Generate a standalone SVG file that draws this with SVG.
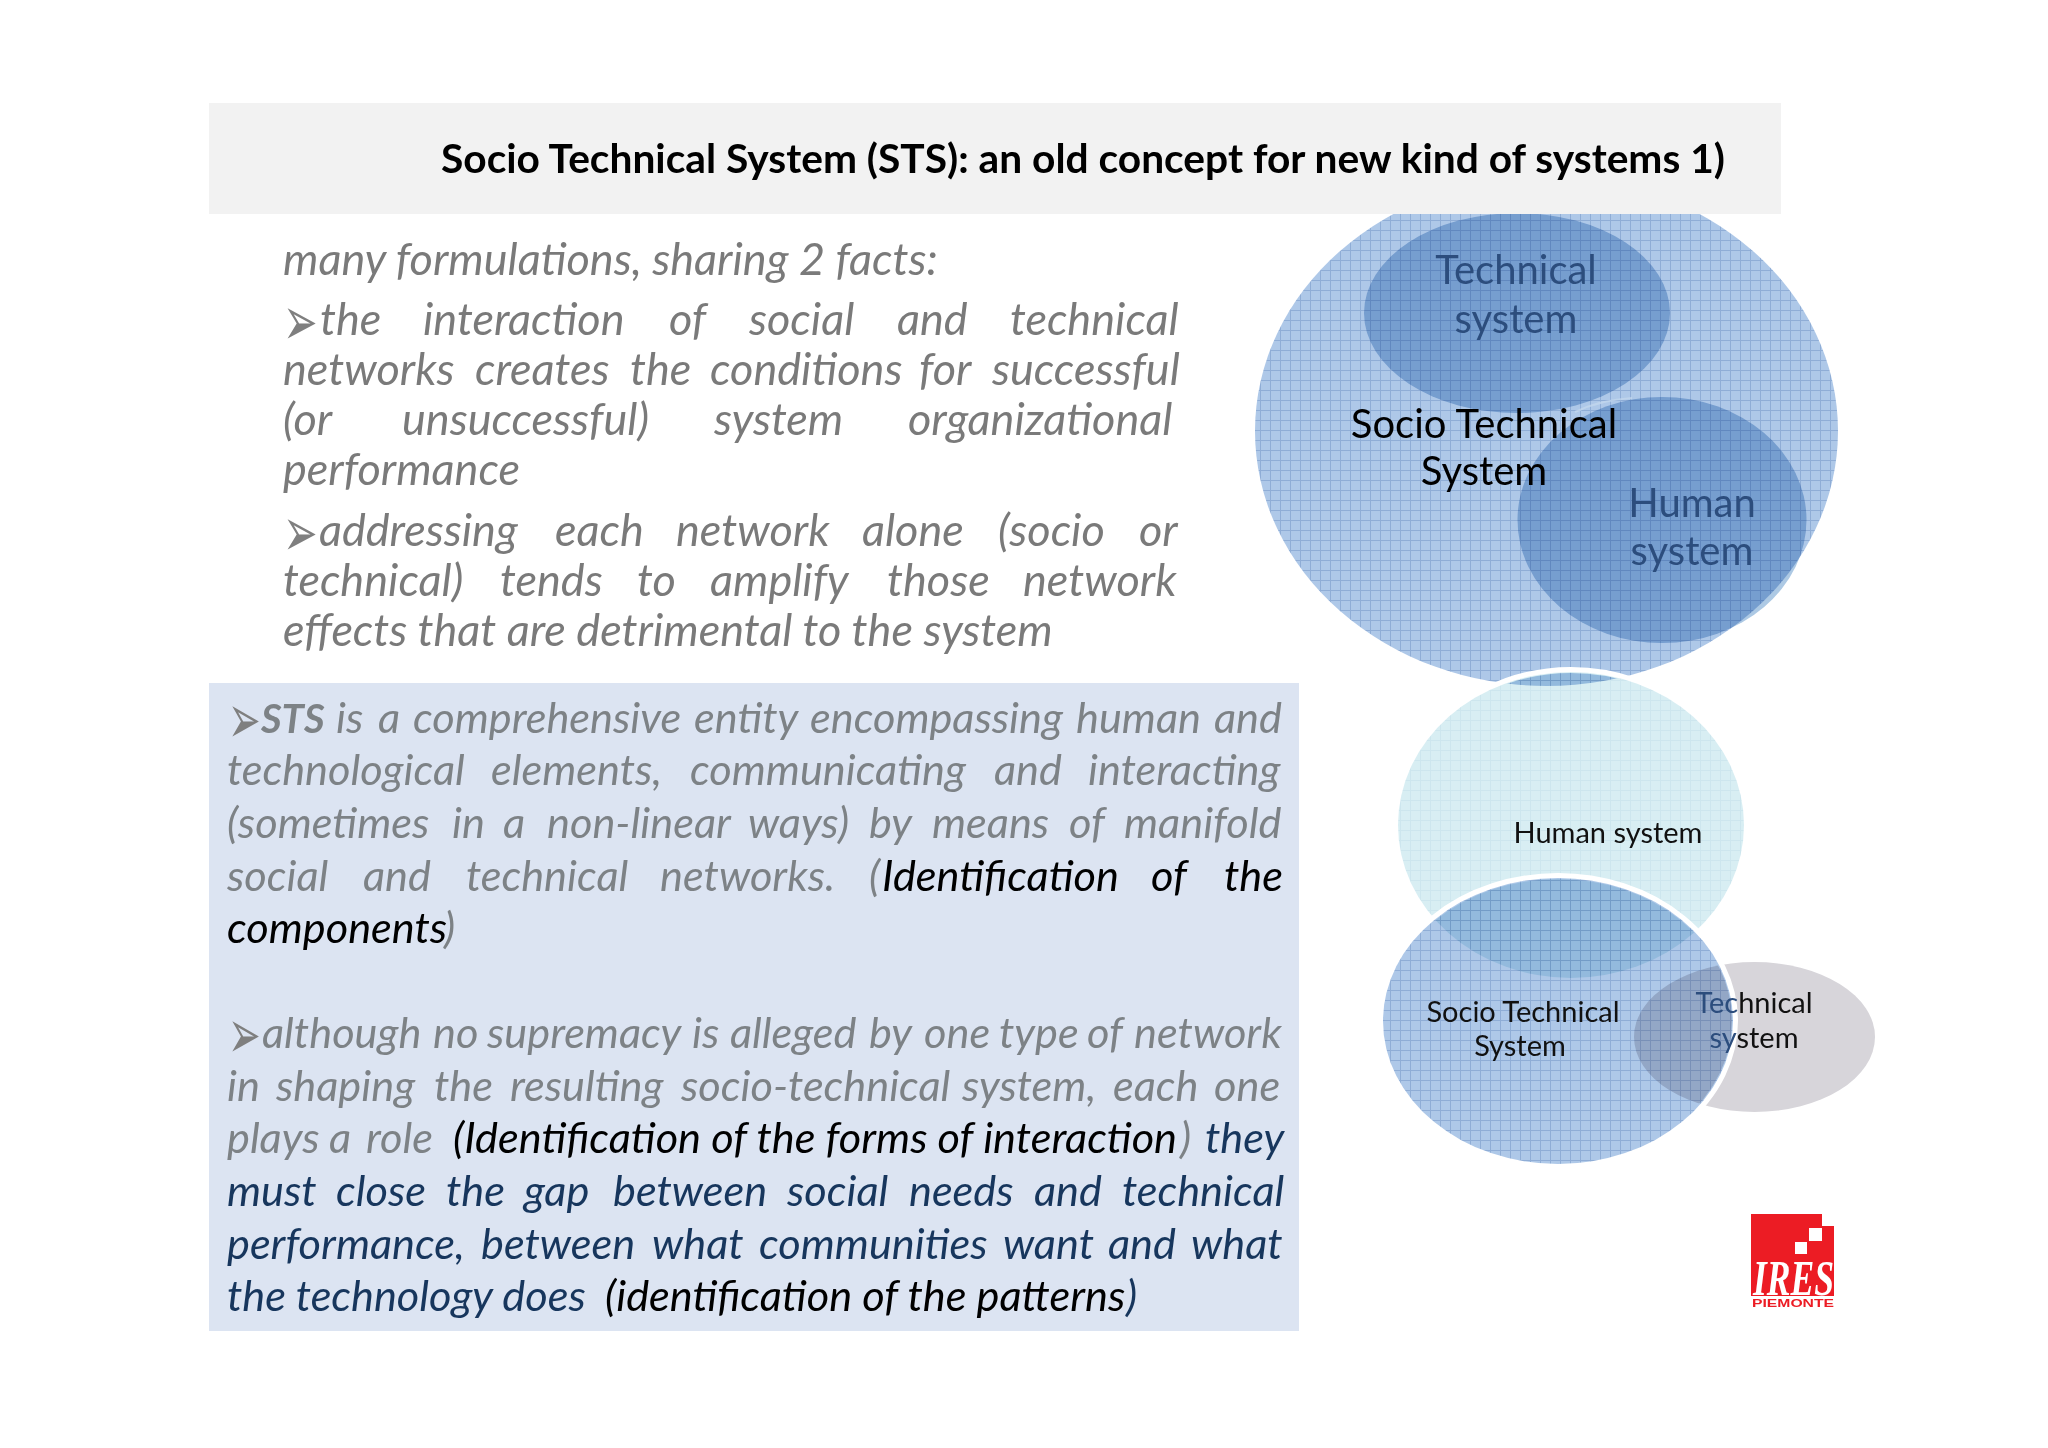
<svg xmlns="http://www.w3.org/2000/svg" width="2048" height="1448" viewBox="0 0 2048 1448">
<style>
text{font-family:Lato,"Noto Sans",sans-serif}
.up{font-size:45px;font-style:italic;fill:#7a7a7a}
.lo{font-size:43.3px;font-style:italic;fill:#7d8286}
.bk{fill:#000}.nv{fill:#17365d}
.bu{font-family:"DejaVu Sans",sans-serif;font-size:46px;font-style:normal;fill:#7f7f7f}
.mul{mix-blend-mode:multiply}
.lab{font-size:40px;text-anchor:middle}
.lab2{font-size:29px;text-anchor:middle;fill:#111}
.sub{fill:#2c4d7d}
</style>
<defs>
<pattern id="grid" width="10" height="10" patternUnits="userSpaceOnUse"><rect width="10" height="10" fill="#aec8e8"/><path d="M0 .5H10M.5 0V10" stroke="#8fadd6" stroke-width="1" fill="none"/></pattern>
<pattern id="gridL" width="10" height="10" patternUnits="userSpaceOnUse"><rect width="10" height="10" fill="#d8eef3"/><path d="M0 .5H10M.5 0V10" stroke="#cde6ee" stroke-width="1" fill="none"/></pattern>
</defs>
<rect width="2048" height="1448" fill="#fff"/>
<g id="sts-upper">
<ellipse cx="1546.5" cy="431" rx="291.5" ry="255" fill="url(#grid)"/>
<ellipse cx="1517" cy="313" rx="153" ry="100" fill="#adc9e4" class="mul"/>
<ellipse cx="1662" cy="520" rx="144.5" ry="123" fill="#adc9e4" class="mul"/>
<path d="M1575 412Q1600 400 1632 398" fill="none" stroke="#c5d8ee" stroke-width="2" opacity=".7"/>
</g>
<rect id="title-bar" x="209" y="103" width="1572" height="111" fill="#f2f2f2"/>
<g id="labels-upper">
<text class="lab sub" x="1516" y="284">Technical</text>
<text class="lab sub" x="1516" y="333">system</text>
<text class="lab" x="1484" y="438">Socio Technical</text>
<text class="lab" x="1484" y="485">System</text>
<text class="lab sub" x="1692" y="517">Human</text>
<text class="lab sub" x="1692" y="565">system</text>
</g>
<g id="human-system">
<ellipse cx="1571" cy="825" rx="175" ry="155" fill="none" stroke="#fff" stroke-width="6"/>
<ellipse cx="1571" cy="825" rx="173" ry="153" fill="url(#gridL)" class="mul"/>
</g>
<g id="technical-system">
<ellipse cx="1754.5" cy="1037" rx="120.5" ry="75" fill="#d7d5da"/>
</g>
<g id="sts-lower">
<ellipse cx="1558" cy="1021" rx="177" ry="145" fill="none" stroke="#fff" stroke-width="6"/>
<ellipse cx="1558" cy="1021" rx="175" ry="143" fill="url(#grid)" class="mul"/>
</g>
<g id="labels-lower">
<text class="lab2" x="1608" y="843">Human system</text>
<text class="lab2" x="1523" y="1022">Socio Technical</text>
<text class="lab2" x="1520" y="1056">System</text>
<text class="lab2" x="1754" y="1013"><tspan class="sub">Tec</tspan>hnical</text>
<text class="lab2" x="1754" y="1048"><tspan class="sub">sy</tspan>stem</text>
</g>
<g id="title"><text x="441" y="173" font-size="40" font-weight="700" fill="#000" textLength="1284" lengthAdjust="spacingAndGlyphs">Socio Technical System (STS): an old concept for new kind of systems 1)</text></g>
<g id="text-upper">
<text class="up" x="283" y="275">many formulations, sharing 2 facts:</text>
<text class="bu" transform="translate(283 345) scale(.9 1.5)">➢</text>
<text class="up" y="335"><tspan x="320">the</tspan><tspan x="423">interaction</tspan><tspan x="669">of</tspan><tspan x="749">social</tspan><tspan x="897">and</tspan><tspan x="1010">technical</tspan></text>
<text class="up" y="385"><tspan x="283">networks</tspan><tspan x="475">creates</tspan><tspan x="630">the</tspan><tspan x="710">conditions</tspan><tspan x="919">for</tspan><tspan x="992">successful</tspan></text>
<text class="up" y="435"><tspan x="283">(or</tspan><tspan x="402">unsuccessful)</tspan><tspan x="714">system</tspan><tspan x="908">organizational</tspan></text>
<text class="up" x="283" y="485">performance</text>
<text class="bu" transform="translate(283 556) scale(.9 1.5)">➢</text>
<text class="up" y="546"><tspan x="319">addressing</tspan><tspan x="555">each</tspan><tspan x="676">network</tspan><tspan x="862">alone</tspan><tspan x="998">(socio</tspan><tspan x="1139">or</tspan></text>
<text class="up" y="596"><tspan x="283">technical)</tspan><tspan x="500">tends</tspan><tspan x="637">to</tspan><tspan x="710">amplify</tspan><tspan x="887">those</tspan><tspan x="1023">network</tspan></text>
<text class="up" x="283" y="646">effects that are detrimental to the system</text>
</g>
<g id="text-box">
<rect x="209" y="683" width="1090" height="648" fill="#dce4f2"/>
<text class="bu" transform="translate(228 743) scale(.85 1.5)">➢</text>
<text class="lo" y="733"><tspan x="261" font-weight="700" font-size="40">STS</tspan><tspan x="336">is</tspan><tspan x="378">a</tspan><tspan x="413">comprehensive</tspan><tspan x="694">entity</tspan><tspan x="810">encompassing</tspan><tspan x="1076">human</tspan><tspan x="1214">and</tspan></text>
<text class="lo" y="785"><tspan x="227">technological</tspan><tspan x="491">elements,</tspan><tspan x="690">communicating</tspan><tspan x="994">and</tspan><tspan x="1088">interacting</tspan></text>
<text class="lo" y="838"><tspan x="227">(sometimes</tspan><tspan x="452">in</tspan><tspan x="503">a</tspan><tspan x="547">non-linear</tspan><tspan x="748">ways)</tspan><tspan x="869">by</tspan><tspan x="932">means</tspan><tspan x="1069">of</tspan><tspan x="1124">manifold</tspan></text>
<text class="lo" y="891"><tspan x="227">social</tspan><tspan x="363">and</tspan><tspan x="466">technical</tspan><tspan x="660">networks.</tspan><tspan x="869">(</tspan><tspan x="882" class="bk">Identification</tspan><tspan x="1151" class="bk">of</tspan><tspan x="1224" class="bk">the</tspan></text>
<text class="lo" y="943"><tspan x="227" class="bk">components</tspan><tspan x="444">)</tspan></text>
<text class="bu" transform="translate(228 1058) scale(.85 1.5)">➢</text>
<text class="lo" y="1048"><tspan x="262">although</tspan><tspan x="433">no</tspan><tspan x="487">supremacy</tspan><tspan x="692">is</tspan><tspan x="730">alleged</tspan><tspan x="869">by</tspan><tspan x="924">one</tspan><tspan x="999">type</tspan><tspan x="1087">of</tspan><tspan x="1134">network</tspan></text>
<text class="lo" y="1101"><tspan x="227">in</tspan><tspan x="276">shaping</tspan><tspan x="434">the</tspan><tspan x="510">resulting</tspan><tspan x="681">socio-technical</tspan><tspan x="962">system,</tspan><tspan x="1113">each</tspan><tspan x="1214">one</tspan></text>
<text class="lo" y="1153"><tspan x="227">plays</tspan><tspan x="329">a</tspan><tspan x="366">role</tspan><tspan x="453" class="bk">(Identification of the forms of interaction</tspan><tspan x="1180">)</tspan><tspan x="1205" class="nv">they</tspan></text>
<text class="lo nv" y="1206"><tspan x="227">must</tspan><tspan x="336">close</tspan><tspan x="446">the</tspan><tspan x="524">gap</tspan><tspan x="613">between</tspan><tspan x="787">social</tspan><tspan x="909">needs</tspan><tspan x="1034">and</tspan><tspan x="1122">technical</tspan></text>
<text class="lo nv" y="1259"><tspan x="227">performance,</tspan><tspan x="481">between</tspan><tspan x="652">what</tspan><tspan x="759">communities</tspan><tspan x="1003">want</tspan><tspan x="1108">and</tspan><tspan x="1191">what</tspan></text>
<text class="lo nv" y="1311"><tspan x="227">the technology does</tspan><tspan x="605" class="bk">(identification of the patterns</tspan><tspan x="1126">)</tspan></text>
</g>
<g id="logo">
<path d="M1751 1214H1822V1226H1834V1296H1751Z" fill="#ec1c24"/>
<rect x="1809" y="1228" width="13" height="13" fill="#fff"/>
<rect x="1795" y="1242" width="12" height="12" fill="#fff"/>
<text x="1753" y="1295" font-size="50" font-weight="700" font-style="italic" fill="#fff" style="font-family:'Liberation Serif',serif" textLength="81" lengthAdjust="spacingAndGlyphs">IRES</text>
<text x="1752" y="1307" font-size="11" font-weight="700" fill="#ec1c24" style="font-family:'Liberation Sans',sans-serif" textLength="82" lengthAdjust="spacingAndGlyphs">PIEMONTE</text>
</g>
</svg>
